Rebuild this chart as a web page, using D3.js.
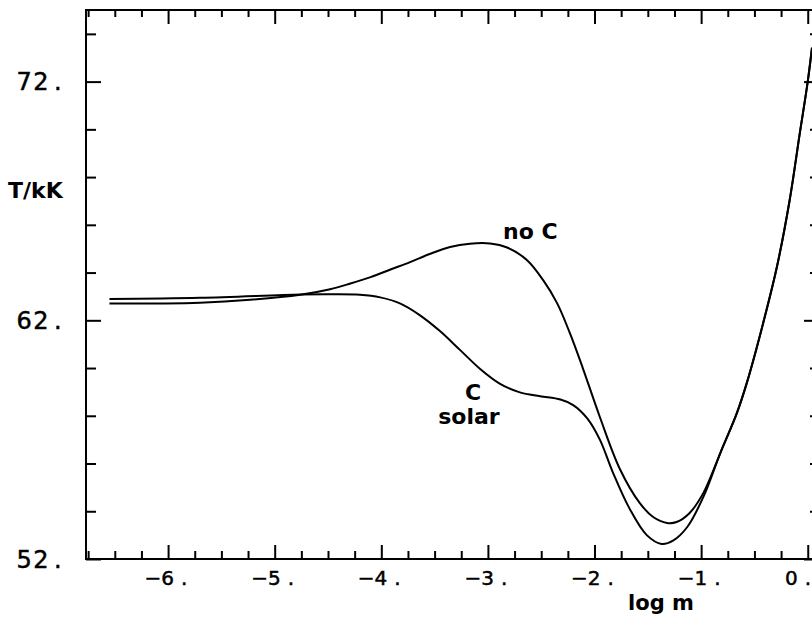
<!DOCTYPE html>
<html>
<head>
<meta charset="utf-8">
<script src="https://cdn.jsdelivr.net/npm/d3@7"></script>
<style>
  body { margin: 0; background: #fff; }
  svg { display: block; }
  text { font-family: "DejaVu Sans", sans-serif; fill: #000; }
</style>
</head>
<body>
<svg></svg>
<script>
// log m vs T/kK
const logmNoC = [-6.55, -5.70, -5.23, -4.76, -4.48, -4.29, -4.10, -3.92, -3.73, -3.54, -3.355, -3.17, -2.98, -2.82,
  -2.63, -2.48, -2.35, -2.23, -2.11, -1.95, -1.76, -1.575, -1.45, -1.32, -1.23, -1.11, -0.98, -0.82, -0.665, -0.57,
  -0.42, -0.29, -0.17, -0.075, 0.0, 0.04];
const tNoC = [62.70, 62.74, 62.86, 63.07, 63.30, 63.54, 63.81, 64.12, 64.44, 64.79, 65.07, 65.21, 65.22, 65.05,
  64.51, 63.67, 62.71, 61.45, 60.00, 57.95, 55.75, 54.34, 53.76, 53.51, 53.55, 53.92, 54.76, 56.44, 58.11, 59.40,
  61.85, 64.22, 67.02, 69.82, 72.0, 73.42];

const logmSolar = [-6.55, -5.70, -4.76, -4.48, -4.20, -4.01, -3.82, -3.64, -3.45, -3.26, -3.07, -2.89, -2.70, -2.51,
  -2.32, -2.20, -2.07, -1.95, -1.83, -1.67, -1.51, -1.37, -1.26, -1.13, -0.98, -0.82, -0.665, -0.57, -0.42,
  -0.29, -0.17, -0.075, 0.0, 0.04];
const tSolar = [62.89, 62.94, 63.08, 63.09, 63.07, 62.96, 62.70, 62.22, 61.55, 60.75, 59.95, 59.35, 58.98, 58.82,
  58.68, 58.45, 57.90, 57.00, 55.65, 54.10, 53.00, 52.63, 52.78, 53.34, 54.59, 56.44, 58.11, 59.40, 61.85,
  64.22, 67.02, 69.82, 72.0, 73.42];

const xMajor = [-6, -5, -4, -3, -2, -1, 0];
const yMajor = [52, 62, 72];
const yMinor = [54, 56, 58, 60, 64, 66, 68, 70, 74];

const width = 812;
const height = 618;
const svg = d3.select('svg')
  .attr('width', width)
  .attr('height', height);

const x = d3.scaleLinear().domain([-6.77, 0.04]).range([86, 812]);
const y = d3.scaleLinear().domain([52, 75]).range([559, 10]);

const xMinor = d3.range(-6.75, 0.01, 0.25).filter(v => Math.abs(v - Math.round(v)) > 1e-6);

svg.append('clipPath').attr('id', 'plot')
  .append('rect')
  .attr('x', x.range()[0]).attr('y', y.range()[1])
  .attr('width', x.range()[1] - x.range()[0])
  .attr('height', y.range()[0] - y.range()[1]);

const tickStyle = (g) => {
  g.select('.domain').remove();
  g.selectAll('line').attr('stroke', '#000').attr('stroke-width', 2);
  g.selectAll('text').remove();
};

// bottom (ticks point up)
svg.append('g').attr('transform', `translate(0,${y(52)})`)
  .call(d3.axisBottom(x).tickValues(xMajor).tickSize(-14)).call(tickStyle);
svg.append('g').attr('transform', `translate(0,${y(52)})`)
  .call(d3.axisBottom(x).tickValues(xMinor).tickSize(-8)).call(tickStyle);
// top (ticks point down)
svg.append('g').attr('transform', `translate(0,${y(75)})`)
  .call(d3.axisTop(x).tickValues(xMajor).tickSize(-14)).call(tickStyle);
svg.append('g').attr('transform', `translate(0,${y(75)})`)
  .call(d3.axisTop(x).tickValues(xMinor).tickSize(-7)).call(tickStyle);
// left (ticks point right)
svg.append('g').attr('transform', `translate(${x(-6.77)},0)`)
  .call(d3.axisLeft(y).tickValues(yMajor).tickSize(-15)).call(tickStyle);
svg.append('g').attr('transform', `translate(${x(-6.77)},0)`)
  .call(d3.axisLeft(y).tickValues(yMinor).tickSize(-10)).call(tickStyle);
// right (ticks point left; the axis line itself sits at the cropped edge)
svg.append('g').attr('transform', `translate(${x(0.04)},0)`)
  .call(d3.axisRight(y).tickValues(yMajor).tickSize(-8)).call(tickStyle);
svg.append('g').attr('transform', `translate(${x(0.04)},0)`)
  .call(d3.axisRight(y).tickValues(yMinor).tickSize(-2)).call(tickStyle);

// frame
svg.append('rect')
  .attr('x', x(-6.77)).attr('y', y(75))
  .attr('width', x(0.04) - x(-6.77) + 2)
  .attr('height', y(52) - y(75))
  .attr('fill', 'none')
  .attr('stroke', '#000')
  .attr('stroke-width', 2);

// tick labels
const fmt = d => (d < 0 ? '\u2212' : '') + Math.abs(d);
const xl = svg.append('g').attr('font-size', 20)
  .attr('stroke', '#000').attr('stroke-width', 0.5);
xMajor.forEach((d) => {
  const shift = d === 0 ? -16 : 0;
  xl.append('text')
    .attr('x', x(d) + 6 + shift).attr('y', 585)
    .attr('text-anchor', 'end')
    .text(fmt(d));
  xl.append('text')
    .attr('x', x(d) + 13 + shift).attr('y', 585)
    .text('.');
});
const yl = svg.append('g').attr('font-size', 24)
  .attr('stroke', '#000').attr('stroke-width', 0.5);
yMajor.forEach((d) => {
  yl.append('text')
    .attr('x', 50).attr('y', y(d) + 8.5)
    .attr('text-anchor', 'end')
    .attr('letter-spacing', 1.5)
    .text(d);
  yl.append('text')
    .attr('x', 54).attr('y', y(d) + 8.5)
    .text('.');
});

// axis titles and curve labels
svg.append('text').attr('x', 8).attr('y', 198)
  .attr('font-size', 22).attr('font-weight', 'bold').text('T/kK');
svg.append('text').attr('x', 661).attr('y', 610)
  .attr('text-anchor', 'middle')
  .attr('font-size', 21).attr('font-weight', 'bold').text('log m');
svg.append('text').attr('x', 503).attr('y', 239)
  .attr('font-size', 22).attr('font-weight', 'bold').text('no C');
svg.append('text').attr('x', 473).attr('y', 400)
  .attr('text-anchor', 'middle')
  .attr('font-size', 22).attr('font-weight', 'bold').text('C');
svg.append('text').attr('x', 469).attr('y', 424)
  .attr('text-anchor', 'middle')
  .attr('font-size', 22).attr('font-weight', 'bold').text('solar');

// curves
const line = d3.line()
  .x(d => x(d[0]))
  .y(d => y(d[1]))
  .curve(d3.curveCatmullRom.alpha(0.5));

const curves = svg.append('g').attr('clip-path', 'url(#plot)');
[[logmNoC, tNoC], [logmSolar, tSolar]].forEach(([xs, ts]) => {
  curves.append('path')
    .datum(d3.zip(xs, ts))
    .attr('d', line)
    .attr('fill', 'none')
    .attr('stroke', '#000')
    .attr('stroke-width', 2);
});
</script>
</body>
</html>
